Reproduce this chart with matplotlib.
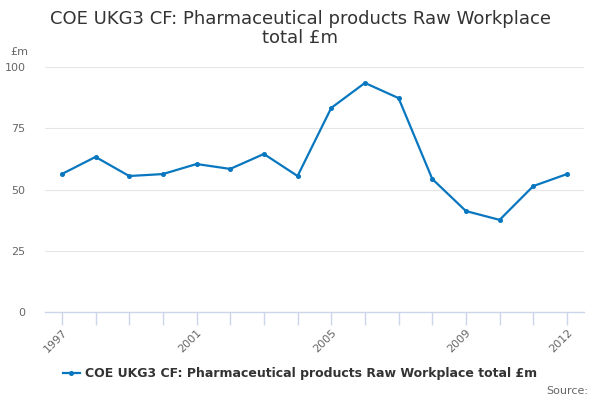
import matplotlib
matplotlib.use("Agg")
import matplotlib.pyplot as plt

years = list(range(1997, 2013))
values = [56.3, 63.3, 55.5, 56.3, 60.4, 58.4, 64.5, 55.5, 83.3, 93.5, 87.3, 54.3, 41.2, 37.6, 51.4, 56.3]
label_years = [1997, 2001, 2005, 2009, 2012]
yticks = [0, 25, 50, 75, 100]
series_name = "COE UKG3 CF: Pharmaceutical products Raw Workplace total £m"
title = "COE UKG3 CF: Pharmaceutical products Raw Workplace\ntotal £m"

plt.rcParams['font.family'] = ['DejaVu Sans']
fig = plt.figure(figsize=(6, 4), dpi=100)
ax = fig.add_axes([0.075, 0.22, 0.898, 0.6125])

line, = ax.plot(years, values, color='#0877bf', linewidth=1.6, marker='o', markersize=2.6, zorder=3)

ax.set_xlim(1996.5, 2012.5)
ax.set_ylim(0, 100)
ax.set_yticks(yticks)
ax.set_yticklabels([str(t) for t in yticks], color='#666666', fontsize=8)
ax.yaxis.grid(True, color='#e6e6e6', linewidth=0.8)
ax.set_axisbelow(True)
ax.tick_params(axis='y', length=0, pad=14)

ax.set_xticks(years, minor=False)
ax.set_xticklabels([str(y) if y in label_years else '' for y in years], rotation=45, ha='right',
                   rotation_mode='anchor', color='#666666', fontsize=8)
ax.tick_params(axis='x', length=9, color='#ccd6eb', width=1, pad=2)

for s in ['top', 'right', 'left']:
    ax.spines[s].set_visible(False)
ax.spines['bottom'].set_color('#ccd6eb')
ax.spines['bottom'].set_linewidth(1)

fig.text(0.5, 0.975, title, ha='center', va='top', fontsize=13, color='#333333', linespacing=1.1)
fig.text(0.017, 0.87, '£m', ha='left', va='center', fontsize=8, color='#666666')

leg = fig.legend([line], [series_name], loc='center', bbox_to_anchor=(0.5, 0.065), frameon=False,
                 prop={'weight': 'bold', 'size': 9}, handlelength=1.4, handletextpad=0.4)
for t in leg.get_texts():
    t.set_color('#333333')

fig.text(0.98, 0.022, 'Source:', ha='right', va='center', fontsize=8, color='#666666')

fig.savefig('out.png', dpi=100)
